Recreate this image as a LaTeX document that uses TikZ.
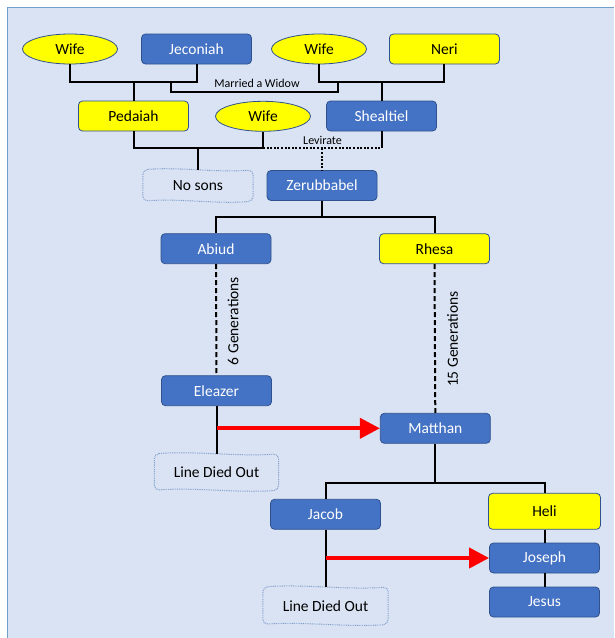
\documentclass[tikz,border=0pt]{standalone}
\usepackage{fontspec}
\setmainfont{Carlito}
\usetikzlibrary{arrows.meta,shapes.geometric,calc}
\definecolor{bgc}{RGB}{218,227,243}
\definecolor{framec}{RGB}{112,160,200}
\definecolor{boxblue}{RGB}{68,114,196}
\definecolor{boxedge}{RGB}{47,82,143}
\definecolor{ylw}{RGB}{255,255,0}
\definecolor{wavec}{RGB}{130,160,205}
\newcommand\wavyframe[1]{%
\draw[wavec, line width=1pt, dash pattern=on 0.9pt off 0.9pt, rounded corners=5pt]
 (#1.north west) .. controls ($(#1.north west)!0.33!(#1.north east)+(0,-3)$) and ($(#1.north west)!0.67!(#1.north east)+(0,3)$) .. (#1.north east)
 -- (#1.south east)
 .. controls ($(#1.south west)!0.67!(#1.south east)+(0,3)$) and ($(#1.south west)!0.33!(#1.south east)+(0,-3)$) .. (#1.south west) -- cycle;}
\begin{document}
\begin{tikzpicture}[x=1pt,y=-1pt,font=\fontsize{15.5}{18}\selectfont,
  bluebox/.style={rectangle, rounded corners=4pt, fill=boxblue, draw=boxedge, line width=0.8pt, text=white, minimum width=110pt, minimum height=30pt, inner sep=0pt},
  yelbox/.style={bluebox, fill=ylw, text=black},
  wifeell/.style={ellipse, fill=ylw, draw=boxedge, line width=0.8pt, minimum width=95pt, minimum height=30pt, inner sep=0pt},
  endbox/.style={rectangle, minimum width=124pt, minimum height=36pt, inner sep=0pt},
  conn/.style={line width=2pt, black},
  dotconn/.style={conn, dash pattern=on 2pt off 1.6pt},
  dashconn/.style={conn, dash pattern=on 5pt off 3pt},
  redarrow/.style={line width=4pt, red, -{Triangle[length=20pt,width=20pt]}},
  smalllbl/.style={font=\fontsize{12}{14}\selectfont, inner sep=0pt}]
\useasboundingbox (0,0) rectangle (614,638);
\fill[bgc] (7.5,7.5) rectangle (614,638);
\draw[framec, line width=1.2pt] (7.5,638) -- (7.5,7.5) -- (614,7.5);

% top row
\node[wifeell] (w1) at (70,49) {Wife};
\node[bluebox] (jec) at (196.5,49) {Jeconiah};
\node[wifeell] (w2) at (319,49) {Wife};
\node[yelbox] (neri) at (444.4,49) {Neri};
% second row
\node[yelbox] (ped) at (133.5,116) {Pedaiah};
\node[wifeell] (w3) at (263,116.3) {Wife};
\node[bluebox] (she) at (381.5,116) {Shealtiel};
% third row
\node[endbox, minimum width=110pt, minimum height=31pt] (noson) at (198,185.5) {No sons};
\wavyframe{noson}
\node[bluebox] (zer) at (322,185.5) {Zerubbabel};
% fourth
\node[bluebox] (abi) at (216,248.7) {Abiud};
\node[yelbox] (rhe) at (434.5,248.7) {Rhesa};
\node[bluebox] (ele) at (216.5,390.7) {Eleazer};
\node[bluebox] (mat) at (435.3,428.3) {Matthan};
\node[endbox] (died1) at (216.5,472) {Line Died Out};
\wavyframe{died1}
\node[bluebox] (jac) at (325.5,514.3) {Jacob};
\node[yelbox, minimum width=112pt, minimum height=36pt] (heli) at (544.5,511.3) {Heli};
\node[bluebox] (jos) at (544.5,558) {Joseph};
\node[bluebox] (jes) at (544.5,602) {Jesus};
\node[endbox, minimum width=125pt, minimum height=37pt] (died2) at (325.5,605.7) {Line Died Out};
\wavyframe{died2}

% top buses
\coordinate (b1) at (ped.north |- 0,81.7);
\draw[conn] (w1.south) |- (b1) -| (jec.south);
\draw[conn] (b1) -- (ped.north);
\coordinate (b2) at (she.north |- 0,81.7);
\draw[conn] (w2.south) |- (b2) -| (neri.south);
\draw[conn] (b2) -- (she.north);
\coordinate (m1) at (171,81.7);
\coordinate (m2) at (338,81.7);
\draw[conn] (m1) -- ++(0,10.6) -| (m2);
\node[smalllbl] (lblw) at (257,83.5) {Married a Widow};

% second buses
\coordinate (b3) at (w3.south |- 0,148.3);
\coordinate (b4) at (she.south |- 0,148.3);
\draw[conn] (ped.south) |- (b3) -- (w3.south);
\draw[dotconn] (b3) -- (b4);
\draw[conn] (she.south) -- (b4);
\draw[conn] (noson.north |- b3) -- (noson.north);
\draw[dotconn] (zer.north |- b3) -- (zer.north);
\node[smalllbl] (lbll) at (322.5,140) {Levirate};

% Zerubbabel to sons
\coordinate (b5) at (zer.south |- 0,217.3);
\draw[conn] (zer.south) -- (b5);
\draw[conn] (abi.north) |- (b5) -| (rhe.north);

% generations
\draw[dashconn] (abi.south) -- (ele.north);
\draw[dashconn] (rhe.south) -- (mat.north);
\node[rotate=90] (g6) at (233,321) {6 Generations};
\node[rotate=90] (g15) at (452.5,339) {15 Generations};

% Eleazer line
\draw[conn] (ele.south) -- (died1.north);
\draw[redarrow] (ele.south |- mat.west) -- (mat.west);

% Matthan to sons
\coordinate (b6) at (mat.south |- 0,483);
\draw[conn] (mat.south) -- (b6);
\draw[conn] (jac.north) |- (b6) -| (heli.north);
\draw[conn] (heli.south) -- (jos.north);
\draw[conn] (jos.south) -- (jes.north);
\draw[conn] (jac.south) -- (died2.north);
\draw[redarrow] (jac.south |- jos.west) -- (jos.west);
\end{tikzpicture}
\end{document}
